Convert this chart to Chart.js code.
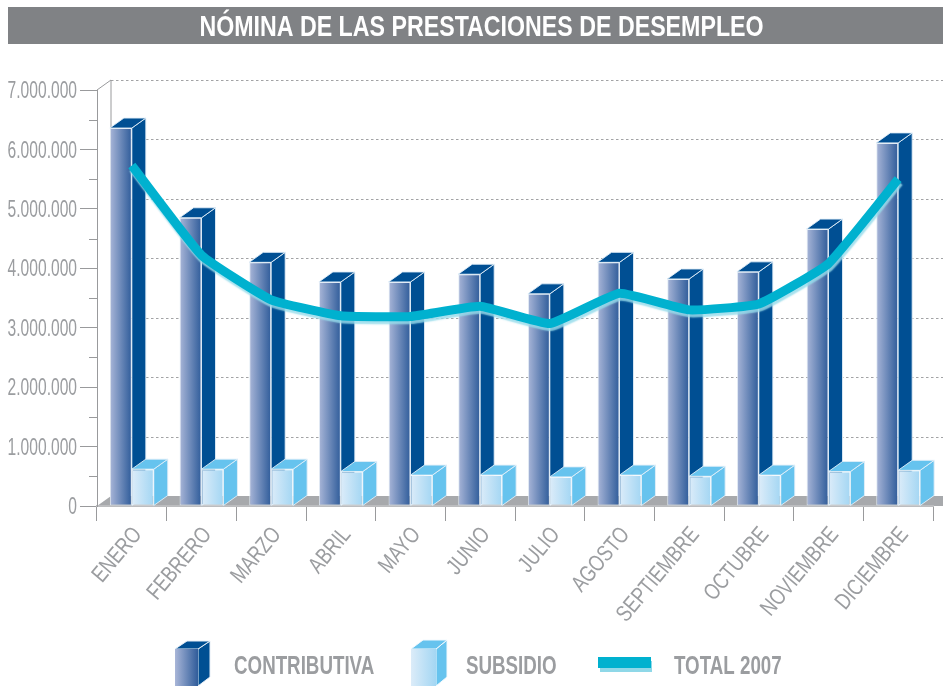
<!DOCTYPE html>
<html><head><meta charset="utf-8">
<style>html,body{margin:0;padding:0;background:#fff}canvas{display:block}</style>
<script src="https://cdn.jsdelivr.net/npm/chart.js@4/dist/chart.umd.min.js"></script>
</head><body><canvas id="c" width="943" height="686"></canvas>
<script>
const chartTitle = 'NÓMINA DE LAS PRESTACIONES DE DESEMPLEO';
const months = ['ENERO','FEBRERO','MARZO','ABRIL','MAYO','JUNIO','JULIO','AGOSTO','SEPTIEMBRE','OCTUBRE','NOVIEMBRE','DICIEMBRE'];
const contributiva = [6360000,4850000,4100000,3770000,3770000,3900000,3570000,4100000,3820000,3940000,4660000,6110000];
const subsidio = [620000,620000,620000,580000,520000,520000,490000,520000,500000,520000,580000,600000];
const total2007 = [5730000,4220000,3470000,3200000,3190000,3360000,3070000,3580000,3300000,3400000,4080000,5500000];
const seriesNames = ['CONTRIBUTIVA','SUBSIDIO','TOTAL 2007'];

const DX = 14, DY = 10, CAT_PCT = 0.63;
const FONT = '"Liberation Sans",sans-serif';
const GREY = '#9b9da0', AXIS = '#999a9c';
const NAVY = '#004f93', SKY = '#66c3ee';

// the reference uses a condensed face: squeeze text along its own baseline
const SQUEEZE = { 29: 0.80, 25: 0.75, 24: 0.65, 23: 0.775 };
const canvas = document.getElementById('c');
const ctx0 = canvas.getContext('2d');
const rawFillText = ctx0.fillText.bind(ctx0);
ctx0.fillText = function(text, x, y, maxW){
  const m = /(\d+(?:\.\d+)?)px/.exec(ctx0.font);
  const k = (m && SQUEEZE[Math.round(+m[1])]) || 1;
  ctx0.save();
  ctx0.translate(x, y);
  ctx0.scale(k, 1);
  rawFillText(text, 0, 0);
  ctx0.restore();
};

function frontGradient(ctx, x0, x1, c0, c1){
  const g = ctx.createLinearGradient(x0, 0, x1, 0);
  g.addColorStop(0, c0); g.addColorStop(1, c1); return g;
}
function barFill(c0, c1, side){
  return (context) => {
    const chart = context.chart, s = chart.scales.x;
    if (!s || context.dataIndex === undefined) return c1;
    const w = (s.right - s.left) / months.length * CAT_PCT / 2;
    const cx = s.getPixelForValue(context.dataIndex);
    if (!isFinite(cx) || !isFinite(w)) return c1;
    return side < 0 ? frontGradient(chart.ctx, cx - w, cx, c0, c1)
                    : frontGradient(chart.ctx, cx, cx + w, c0, c1);
  };
}
function poly(ctx, pts, fill, stroke){
  ctx.beginPath();
  pts.forEach((p,i)=> i ? ctx.lineTo(p[0],p[1]) : ctx.moveTo(p[0],p[1]));
  ctx.closePath();
  if (fill){ ctx.fillStyle = fill; ctx.fill(); }
  if (stroke){ ctx.strokeStyle = stroke; ctx.lineWidth = 1; ctx.stroke(); }
}
function box3d(ctx, l, r, top, base, color, edge){
  poly(ctx, [[r,top],[r+DX,top-DY],[r+DX,base-DY],[r,base]], color, edge);
  poly(ctx, [[l,top],[l+DX,top-DY],[r+DX,top-DY],[r,top]], color, edge);
}

const decor = {
  id: 'decor',
  afterLayout(chart){
    chart.titleBlock.left += 15; chart.titleBlock.right += 15;
  },
  beforeDraw(chart){
    const {ctx, scales:{x, y}, width} = chart;
    ctx.save();
    ctx.fillStyle = '#808285';
    ctx.fillRect(8, 7, width - 8, 37);
    const b = y.getPixelForValue(0), L = x.left;
    // back wall: dashed gridlines
    ctx.strokeStyle = '#a2a3a5'; ctx.lineWidth = 1; ctx.setLineDash([2.5,2.5]);
    y.ticks.forEach(t => {
      if (t.value === 0) return;
      const p = Math.round(y.getPixelForValue(t.value) - DY) + .5;
      ctx.beginPath(); ctx.moveTo(L + DX, p); ctx.lineTo(width, p); ctx.stroke();
    });
    ctx.setLineDash([]);
    ctx.strokeStyle = AXIS;
    const t7 = y.getPixelForValue(y.max);
    ctx.beginPath();
    ctx.moveTo(L, t7); ctx.lineTo(L + DX, t7 - DY); ctx.lineTo(L + DX, b - DY);
    ctx.stroke();
    // floor
    poly(ctx, [[L,b],[L+DX,b-DY],[width,b-DY],[width,b]], '#a7a9ac');
    // minor ticks on the value axis
    ctx.strokeStyle = AXIS;
    y.ticks.forEach(t => {
      if (t.value >= y.max) return;
      const p = Math.round(y.getPixelForValue(t.value + 500000)) + .5;
      ctx.beginPath(); ctx.moveTo(L - 8, p); ctx.lineTo(L, p); ctx.stroke();
    });
    ctx.restore();
  },
  beforeDatasetsDraw(chart){
    const ctx = chart.ctx;
    ctx.save();
    chart.data.datasets.forEach((ds, i) => {
      if (ds.type === 'line') return;
      chart.getDatasetMeta(i).data.forEach(el => {
        box3d(ctx, el.x - el.width/2, el.x + el.width/2, el.y, el.base, ds.depthColor, 'rgba(225,238,248,.9)');
      });
    });
    ctx.restore();
  },
  beforeDatasetDraw(chart, args){
    const ctx = chart.ctx, ds = chart.data.datasets[args.index];
    if (ds.type === 'line'){
      ctx.save();
      ctx.shadowColor = 'rgba(150,220,235,.85)';
      ctx.shadowOffsetY = 3; ctx.shadowOffsetX = 1; ctx.shadowBlur = 1.5;
    }
  },
  afterDatasetDraw(chart, args){
    if (chart.data.datasets[args.index].type === 'line') chart.ctx.restore();
  },
  afterDraw(chart){
    const ctx = chart.ctx;
    ctx.save();
    // legend
    const g1 = frontGradient(ctx, 175, 198, '#a9b6d8', '#2f5c9a');
    poly(ctx, [[198,649],[210,641],[210,677],[198,686]], NAVY, '#e6eef6');
    poly(ctx, [[175,649],[187,641],[210,641],[198,649]], NAVY, '#e6eef6');
    ctx.fillStyle = g1; ctx.fillRect(175, 649, 23, 37);
    const g2 = frontGradient(ctx, 411, 436, '#dcecf9', '#a3d6f3');
    poly(ctx, [[436,649],[447,640],[447,677],[436,686]], SKY, '#f2f9fd');
    poly(ctx, [[411,649],[423,640],[447,640],[436,649]], SKY, '#f2f9fd');
    ctx.fillStyle = g2; ctx.fillRect(411, 649, 25, 37);
    ctx.fillStyle = '#8fd8e8'; ctx.fillRect(600, 661, 52, 11);
    ctx.fillStyle = '#00b1cf'; ctx.fillRect(598, 657, 53, 11);
    ctx.font = 'bold 25px ' + FONT;
    ctx.fillStyle = GREY; ctx.textBaseline = 'alphabetic'; ctx.textAlign = 'left';
    [234, 466, 674].forEach((tx,i) => ctx.fillText(seriesNames[i], tx, 674));
    ctx.restore();
  }
};

new Chart(canvas, {
  type: 'bar',
  plugins: [decor],
  data: {
    labels: months,
    datasets: [
      { label: seriesNames[0], data: contributiva, order: 2, depthColor: NAVY,
        backgroundColor: barFill('#a9b6d8', '#2f5c9a', -1),
        borderColor: 'rgba(225,235,245,.9)', borderWidth: 1, borderSkipped: false },
      { label: seriesNames[1], data: subsidio, order: 2, depthColor: SKY,
        backgroundColor: barFill('#dcecf9', '#a3d6f3', 1),
        borderColor: 'rgba(245,250,253,.95)', borderWidth: 1, borderSkipped: false },
      { type: 'line', label: seriesNames[2], data: total2007, order: 1,
        borderColor: '#00b1cf', borderWidth: 9, tension: 0.12, pointRadius: 0,
        borderCapStyle: 'butt', borderJoinStyle: 'round', fill: false, clip: false }
    ]
  },
  options: {
    responsive: false,
    animation: false,
    categoryPercentage: CAT_PCT,
    barPercentage: 1,
    layout: { padding: { left: 0, right: 10, top: 0, bottom: 0 } },
    plugins: {
      legend: { display: false },
      tooltip: { enabled: false },
      title: {
        display: true, text: chartTitle, color: '#fff',
        font: { family: FONT, size: 29, weight: 'bold' },
        padding: { top: 11, bottom: 44.2 }
      }
    },
    scales: {
      x: {
        afterFit(s){ s.height = 180; },
        grid: { drawOnChartArea: false, tickLength: 15, color: AXIS, offset: true },
        border: { color: '#bcbdbf', width: 2 },
        ticks: { color: GREY, font: { family: FONT, size: 23 }, autoSkip: false,
                 maxRotation: 50, minRotation: 50, labelOffset: 6, padding: 1 }
      },
      y: {
        min: 0, max: 7000000,
        afterFit(s){ s.width = 97; },
        grid: { drawOnChartArea: false, tickLength: 17, color: AXIS },
        border: { color: AXIS },
        ticks: { stepSize: 1000000, color: GREY, padding: 3, labelOffset: 1.5,
                 font: { family: FONT, size: 24 },
                 callback: v => String(v).replace(/\B(?=(\d{3})+$)/g, '.') }
      }
    }
  }
});
</script></body></html>
